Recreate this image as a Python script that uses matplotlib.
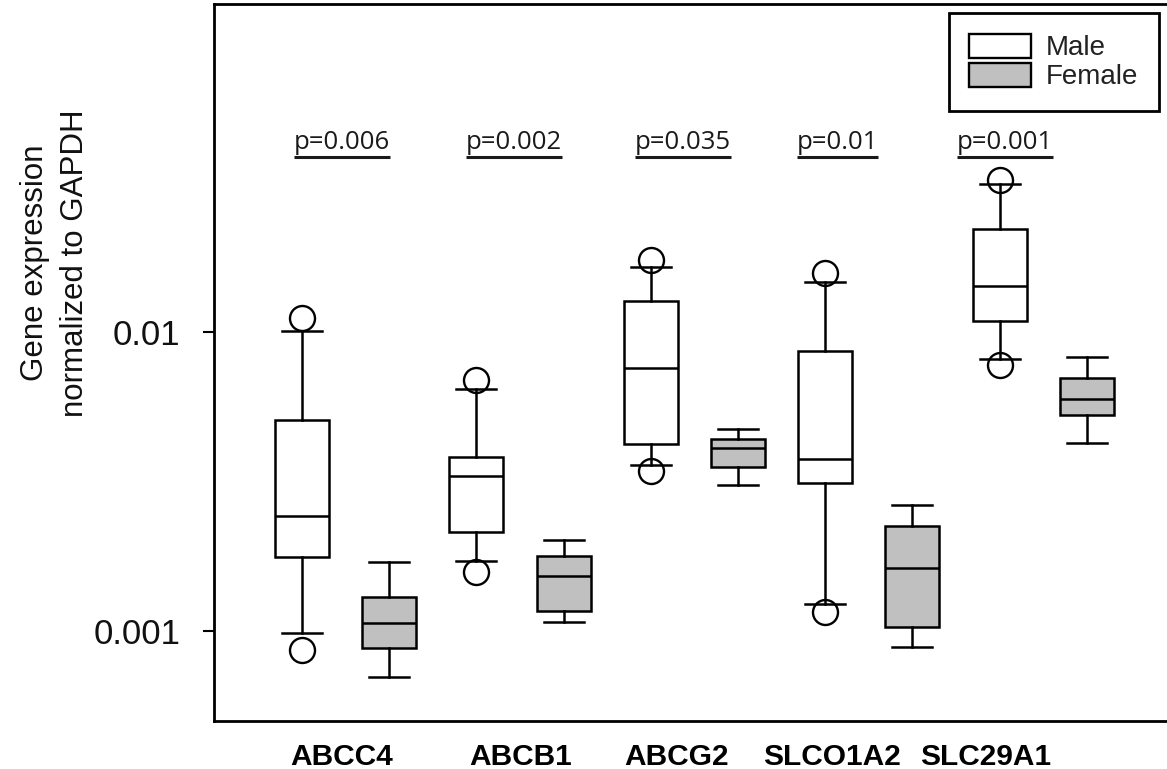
import matplotlib
matplotlib.use("Agg")
import matplotlib.pyplot as plt
from matplotlib.patches import Patch

# ── Datos ─────────────────────────────────────────────────────────────────────
genes = ['ABCC4', 'ABCB1', 'ABCG2', 'SLCO1A2', 'SLC29A1']
p_values = ['p=0.006', 'p=0.002', 'p=0.035', 'p=0.01', 'p=0.001']

# whislo, q1, med, q3, whishi
male_stats = [
    [0.000985, 0.00177, 0.00243, 0.00508, 0.0101],
    [0.00172, 0.00214, 0.00331, 0.00381, 0.00643],
    [0.00359, 0.00421, 0.0076, 0.01273, 0.01654],
    [0.001231, 0.00312, 0.00377, 0.00864, 0.01473],
    [0.00814, 0.01088, 0.01429, 0.02206, 0.0312],
]
male_fliers = [
    [0.000863, 0.01111],
    [0.00158, 0.00691],
    [0.003437, 0.01741],
    [0.00116, 0.01572],
    [0.00776, 0.03224],
]
female_stats = [
    [0.000703, 0.000875, 0.001062, 0.001303, 0.001706],
    [0.00107, 0.001167, 0.001528, 0.001787, 0.002015],
    [0.003078, 0.003528, 0.0041, 0.004386, 0.004738],
    [0.000886, 0.001029, 0.00162, 0.00225, 0.002633],
    [0.00424, 0.00529, 0.00597, 0.00703, 0.00823],
]

# posiciones de etiquetas (en unidades de caja)
label_pos = [0.45, 2.51, 4.30, 6.08, 7.84]
pval_pos = [0.46, 2.43, 4.37, 6.14, 8.06]


def to_dict(s, fl):
    return dict(whislo=s[0], q1=s[1], med=s[2], q3=s[3], whishi=s[4], fliers=fl)


# ── Figura ────────────────────────────────────────────────────────────────────
fig = plt.figure(figsize=(11.67, 7.69), dpi=100)
ax = fig.add_axes([214 / 1167, 48.3 / 769, 953 / 1167, 716.7 / 769])

lw = 1.8
common = dict(widths=0.62, patch_artist=True, showfliers=True,
              medianprops=dict(color='black', linewidth=lw),
              whiskerprops=dict(color='black', linewidth=lw),
              capprops=dict(color='black', linewidth=lw),
              flierprops=dict(marker='o', markersize=18, markerfacecolor='none',
                              markeredgecolor='black', markeredgewidth=1.7),
              capwidths=0.46, manage_ticks=False)

bm = ax.bxp([to_dict(s, f) for s, f in zip(male_stats, male_fliers)],
            positions=[2 * i for i in range(len(genes))],
            boxprops=dict(facecolor='white', edgecolor='black', linewidth=lw), **common)
bf = ax.bxp([to_dict(s, []) for s in female_stats],
            positions=[2 * i + 1 for i in range(len(genes))],
            boxprops=dict(facecolor='#c0c0c0', edgecolor='black', linewidth=lw), **common)

ax.set_yscale('log')
ax.set_ylim(0.000501, 0.125)
ax.set_xlim(-1.009, 9.92)
ax.set_yticks([0.001, 0.01])
ax.set_yticklabels(['0.001', '0.01'])
ax.yaxis.set_minor_locator(matplotlib.ticker.NullLocator())
ax.tick_params(axis='y', direction='out', length=8, width=1.5, pad=16,
               labelsize=25, labelcolor='#111111')
for lab in ax.get_yticklabels():
    lab.set_family('Liberation Sans')

ax.set_xticks(label_pos)
ax.set_xticklabels(genes, fontsize=21.5, fontweight='bold', family='Liberation Sans')
ax.tick_params(axis='x', length=0, pad=16)

for side in ['left', 'bottom', 'top']:
    ax.spines[side].set_linewidth(2)
ax.spines['right'].set_visible(False)

ax.set_ylabel('Gene expression\nnormalized to GAPDH', fontsize=22.5,
              family='Liberation Sans', linespacing=1.4, color='#111111')
ax.yaxis.set_label_coords(-0.1668, 0.6386)
ax.yaxis.label.set_verticalalignment('center')

# valores p subrayados
ptexts = []
trans = matplotlib.transforms.blended_transform_factory(ax.transData, ax.transAxes)
for x, p in zip(pval_pos, p_values):
    t = ax.text(x, 0.798, p, transform=trans, ha='center', va='baseline',
                fontsize=18.5, family='Open Sans', color='#1a1a1a')
    ptexts.append(t)

fig.canvas.draw()
inv = ax.transAxes.inverted()
for t in ptexts:
    bb = t.get_window_extent()
    (x0, _), (x1, _) = inv.transform([[bb.x0, 0], [bb.x1, 0]])
    ax.plot([x0, x1], [0.787, 0.787], transform=ax.transAxes, color='#1a1a1a',
            linewidth=2.2, solid_capstyle='butt', clip_on=False)

handles = [Patch(facecolor='white', edgecolor='black', linewidth=1.7, label='Male'),
           Patch(facecolor='#c0c0c0', edgecolor='black', linewidth=1.7, label='Female')]
leg = ax.legend(handles=handles, loc='upper right', bbox_to_anchor=(0.9916, 0.9875),
                borderaxespad=0, fancybox=False, framealpha=1, edgecolor='black',
                prop={'family': 'Liberation Sans', 'size': 20},
                handlelength=2.2, handleheight=0.95, handletextpad=0.55,
                labelspacing=0.05, borderpad=0.75)
leg.get_frame().set_linewidth(2)
for txt in leg.get_texts():
    txt.set_color('#222222')

fig.savefig('out.png', dpi=100)
